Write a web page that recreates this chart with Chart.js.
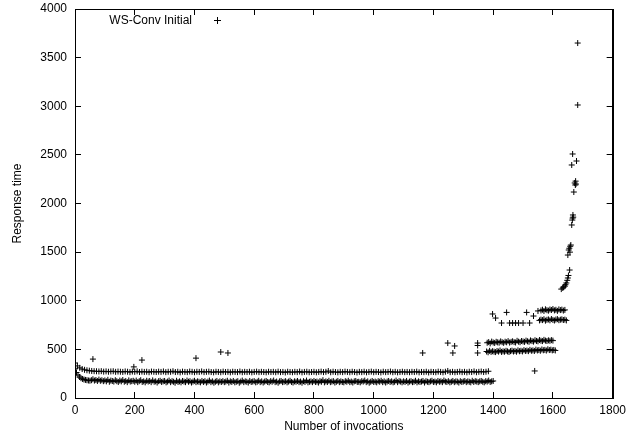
<!DOCTYPE html>
<html>
<head>
<meta charset="utf-8">
<script src="https://cdn.jsdelivr.net/npm/chart.js@4.4.1/dist/chart.umd.min.js"></script>
<style>
  body { margin: 0; background: #fff; }
</style>
</head>
<body>
<canvas id="chart" width="637" height="440"></canvas>
<script>
// axis ticks
const xTicks = [0, 200, 400, 600, 800, 1000, 1200, 1400, 1600, 1800];
const yTicks = [0, 500, 1000, 1500, 2000, 2500, 3000, 3500, 4000];

// fast band, one reading every 5 invocations starting at 0
const lowBandStart = 0;
const lowBandStep = 5;
const lowBand = [
  300, 262, 236, 216, 204, 196, 190, 186, 183, 180, 178, 183, 193, 179, 185, 175, 189, 177, 183, 173,
  181, 171, 187, 167, 179, 175, 169, 183, 173, 165, 179, 171, 185, 167, 175, 163, 181, 169, 173, 177,
  167, 179, 163, 173, 183, 165, 171, 161, 177, 169, 175, 163, 181, 167, 171, 159, 173, 177, 165, 171,
  175, 161, 169, 179, 163, 173, 167, 157, 177, 165, 171, 161, 175, 169, 163, 179, 167, 173, 159, 169,
  177, 163, 171, 167, 161, 175, 165, 173, 159, 169, 179, 163, 171, 157, 167, 175, 161, 171, 165, 173,
  163, 169, 177, 159, 171, 165, 175, 161, 167, 173, 157, 169, 179, 163, 171, 167, 159, 175, 165, 169,
  173, 161, 167, 177, 163, 171, 159, 169, 175, 165, 161, 173, 167, 179, 163, 169, 157, 171, 175, 163,
  167, 173, 161, 169, 177, 165, 159, 171, 167, 175, 163, 169, 157, 173, 165, 179, 161, 167, 171, 163,
  175, 165, 169, 159, 173, 167, 183, 161, 171, 165, 177, 163, 169, 173, 159, 167, 175, 163, 171, 165,
  161, 173, 167, 177, 163, 169, 159, 171, 175, 165, 167, 161, 173, 169, 179, 163, 171, 157, 167, 175,
  165, 169, 161, 173, 167, 177, 163, 171, 159, 169, 175, 165, 171, 161, 167, 179, 163, 173, 169, 161,
  171, 165, 175, 159, 169, 173, 163, 167, 177, 161, 171, 165, 169, 175, 159, 173, 167, 163, 171, 177,
  165, 169, 161, 175, 167, 171, 163, 179, 169, 165, 173, 161, 167, 175, 163, 171, 169, 159, 173, 165,
  169, 175, 163, 171, 167, 161, 177, 165, 173, 169, 163, 171, 175, 167, 161, 173, 169, 179, 165, 171,
  175
];

// slower band, one reading every 8 invocations starting at 0
const highBandStart = 0;
const highBandStep = 8;
const highBand = [
  360, 330, 310, 298, 290, 285, 281, 278, 276, 275, 273, 276, 271, 274, 270, 273, 275, 269, 272, 270,
  268, 273, 270, 266, 272, 269, 274, 267, 271, 268, 270, 265, 272, 269, 267, 271, 268, 273, 266, 270,
  269, 275, 267, 270, 264, 271, 268, 266, 272, 269, 265, 270, 268, 273, 266, 269, 271, 267, 264, 270,
  268, 265, 271, 267, 269, 264, 270, 268, 266, 272, 265, 269, 267, 270, 264, 268, 271, 266, 269, 267,
  264, 270, 267, 269, 265, 271, 266, 268, 263, 270, 267, 265, 269, 266, 272, 264, 268, 270, 265, 267,
  269, 264, 268, 271, 266, 269, 277, 265, 270, 267, 264, 269, 266, 271, 268, 265, 270, 267, 263, 269,
  266, 270, 264, 268, 271, 265, 269, 267, 263, 270, 266, 268, 272, 265, 269, 264, 267, 270, 266, 268,
  265, 269, 267, 271, 264, 268, 266, 270, 263, 269, 267, 265, 271, 268, 264, 270, 278, 266, 269, 265,
  268, 271, 266, 269, 264, 270, 267, 273, 265, 269, 272, 267, 270, 275
];

// after 1380 invocations
const midLowStart = 1378;
const midLowStep = 5;
const midLow = [
  478, 470, 485, 474, 481, 476, 472, 483, 477, 488, 474, 480, 476, 485, 479, 473, 482, 487, 478, 484,
  476, 490, 481, 486, 479, 492, 484, 488, 482, 495, 486, 490, 484, 497, 489, 493, 486, 499, 491, 495,
  488, 501, 493, 497, 490, 494, 489
];
const midHighStart = 1380;
const midHighStep = 5;
const midHigh = [
  568, 575, 562, 580, 571, 566, 578, 572, 569, 582, 574, 567, 579, 573, 585, 570, 577, 583, 575, 571,
  588, 579, 574, 586, 581, 577, 590, 583, 578, 592, 585, 580, 594, 587, 583, 596, 589, 585, 598, 590,
  586, 593, 588, 595, 590
];

// after 1555 invocations
const topLowStart = 1555;
const topLowStep = 5;
const topLow = [798, 806, 801, 810, 795, 804, 808, 799, 812, 803, 797, 807, 811, 800, 805, 809, 802, 806, 798];
const topHighStart = 1560;
const topHighStep = 5;
const topHigh = [900, 908, 895, 912, 903, 898, 910, 905, 915, 901, 907, 896, 911, 904, 909, 899, 906];

// single readings: [invocation, response time]
const loose = [
  [60, 400], [197, 320], [224, 390], [405, 410], [488, 473], [512, 463],
  [1164, 463], [1248, 565], [1271, 535], [1265, 463], [1348, 565], [1348, 540], [1348, 463],
  [1398, 864], [1408, 822], [1428, 771], [1445, 880], [1455, 771], [1465, 771], [1475, 771],
  [1485, 771], [1500, 771], [1512, 880], [1522, 771], [1535, 843], [1539, 278], [1550, 895],
  [1628, 1120], [1633, 1131], [1636, 1140], [1640, 1150], [1642, 1165], [1645, 1183], [1648, 1210],
  [1650, 1234], [1652, 1260], [1656, 1316], [1650, 1470], [1653, 1522], [1655, 1540], [1658, 1560],
  [1660, 1573], [1657, 1500], [1663, 1779], [1665, 1830], [1666, 1850], [1667, 1882], [1668, 1860],
  [1670, 2118], [1673, 2211], [1675, 2190], [1676, 2230], [1677, 2200], [1663, 2396], [1679, 2437],
  [1666, 2509], [1683, 3013], [1683, 3650]
];

const seriesLabel = 'WS-Conv Initial';

function band(start, step, values) {
  return values.map((v, i) => ({ x: start + i * step, y: v }));
}

const points = [
  ...band(lowBandStart, lowBandStep, lowBand),
  ...band(highBandStart, highBandStep, highBand),
  ...band(midLowStart, midLowStep, midLow),
  ...band(midHighStart, midHighStep, midHigh),
  ...band(topLowStart, topLowStep, topLow),
  ...band(topHighStart, topHighStep, topHigh),
  ...loose.map(p => ({ x: p[0], y: p[1] }))
];

Chart.defaults.font.family = '"Liberation Sans", Arial, sans-serif';
Chart.defaults.font.size = 12;
Chart.defaults.color = '#000';

// gnuplot look: frame on all four sides, ticks pointing inwards (negative tick length)
const frameGrid = { drawOnChartArea: false, drawTicks: true, tickLength: -6, color: '#000', lineWidth: 1 };
const frameBorder = { display: true, color: '#000', width: 1 };

// key in the top left, text then sample marker, like gnuplot
const gnuKey = {
  id: 'gnuKey',
  afterDraw(chart) {
    const ctx = chart.ctx;
    const a = chart.chartArea;
    const L = Math.round(a.left), R = Math.round(a.right);
    const T = Math.round(a.top), B = Math.round(a.bottom);
    ctx.save();
    ctx.fillStyle = '#000';
    // frame again on top of the points
    ctx.fillRect(L, T, R - L + 1, 1);
    ctx.fillRect(L, B, R - L + 1, 1);
    ctx.fillRect(L, T, 1, B - T + 1);
    ctx.fillRect(R, T, 1, B - T + 1);
    ctx.font = '12px "Liberation Sans", Arial, sans-serif';
    ctx.textAlign = 'right';
    ctx.textBaseline = 'middle';
    ctx.fillText(seriesLabel, 192, 21);
    ctx.fillRect(214, 20, 7, 1);
    ctx.fillRect(217, 17, 1, 7);
    ctx.restore();
  }
};

new Chart(document.getElementById('chart'), {
  type: 'scatter',
  data: {
    datasets: [{
      label: seriesLabel,
      data: points,
      pointStyle: 'cross',
      pointRadius: 3,
      borderColor: '#000',
      borderWidth: 1
    }]
  },
  options: {
    responsive: false,
    animation: false,
    layout: { padding: { left: 0, right: 24, top: 9, bottom: 0 } },
    plugins: { legend: { display: false }, tooltip: { enabled: false } },
    scales: {
      x: {
        type: 'linear',
        position: 'bottom',
        min: 0,
        max: 1800,
        afterFit: (scale) => { scale.height = 42; },
        afterBuildTicks: (scale) => { scale.ticks = xTicks.map(v => ({ value: v })); },
        grid: frameGrid,
        border: frameBorder,
        ticks: { padding: 11, maxRotation: 0, callback: (v) => String(v) },
        title: { display: true, text: 'Number of invocations', padding: { top: 0, bottom: 6 } }
      },
      x2: {
        type: 'linear',
        position: 'top',
        min: 0,
        max: 1800,
        afterFit: (scale) => { scale.height = 0; },
        afterBuildTicks: (scale) => { scale.ticks = xTicks.map(v => ({ value: v })); },
        grid: frameGrid,
        border: frameBorder,
        ticks: { display: false }
      },
      y: {
        type: 'linear',
        position: 'left',
        min: 0,
        max: 4000,
        afterFit: (scale) => { scale.width = 75; scale.paddingTop = 0; scale.paddingBottom = 0; },
        afterBuildTicks: (scale) => { scale.ticks = yTicks.map(v => ({ value: v })); },
        grid: frameGrid,
        border: frameBorder,
        ticks: { padding: 14, callback: (v) => String(v) },
        title: { display: true, text: 'Response time', padding: { top: 10, bottom: 0 } }
      },
      y2: {
        type: 'linear',
        position: 'right',
        min: 0,
        max: 4000,
        afterFit: (scale) => { scale.width = 0; scale.paddingTop = 0; scale.paddingBottom = 0; },
        afterBuildTicks: (scale) => { scale.ticks = yTicks.map(v => ({ value: v })); },
        grid: frameGrid,
        border: frameBorder,
        ticks: { display: false }
      }
    }
  },
  plugins: [gnuKey]
});
</script>
</body>
</html>
